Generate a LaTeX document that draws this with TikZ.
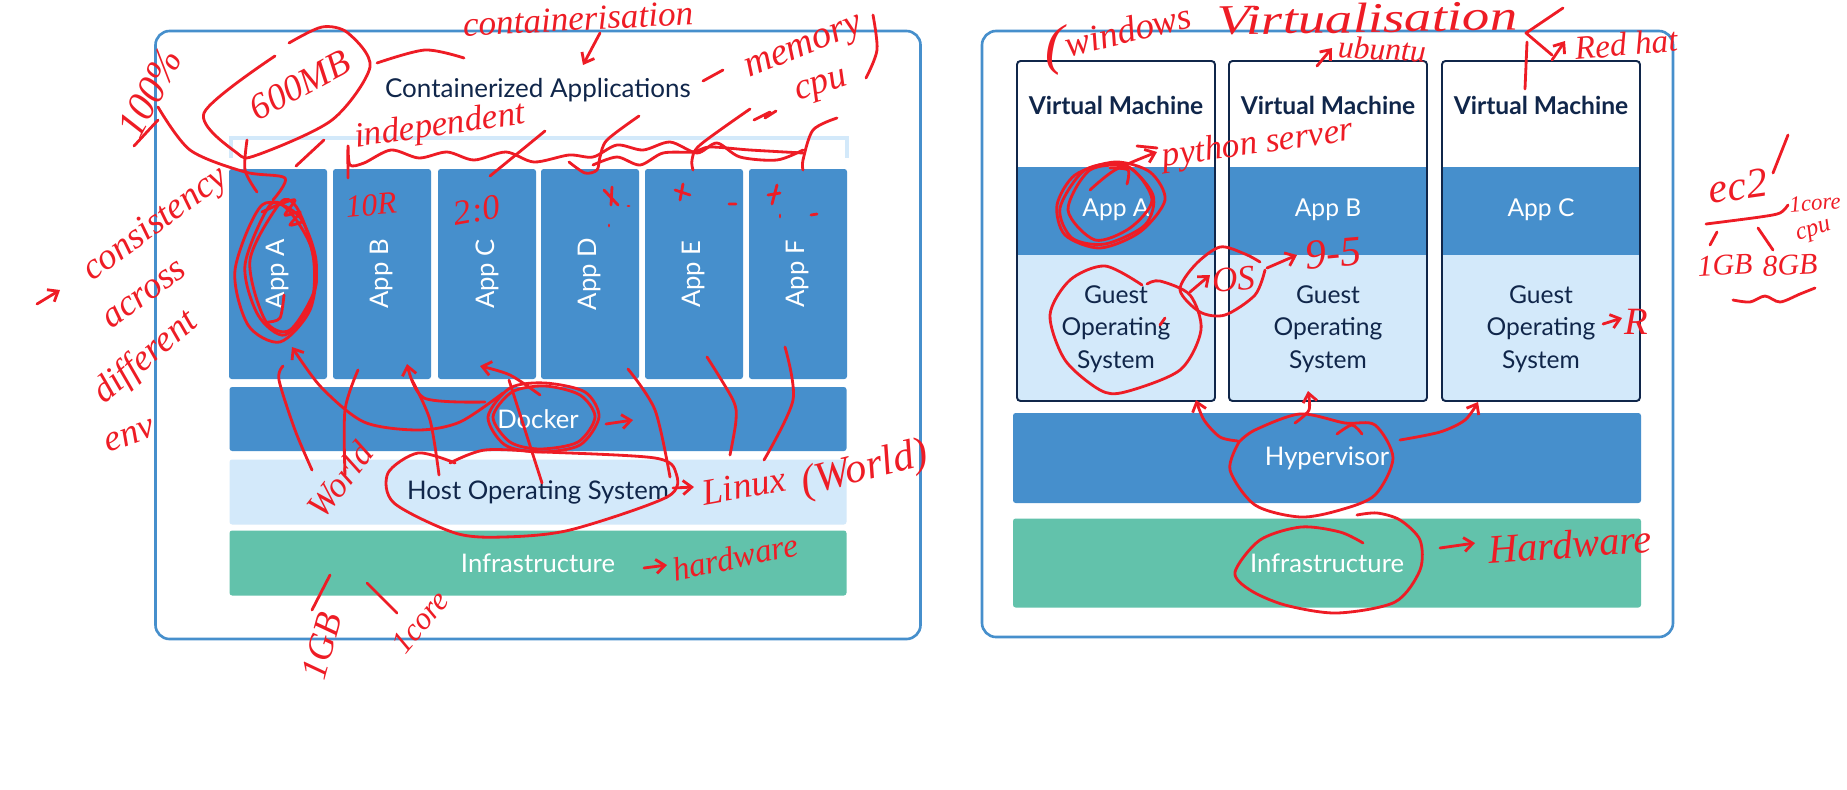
\documentclass[tikz,border=0pt]{standalone}
\usepackage{fontspec}
\setmainfont{Lato}
\newfontfamily\handfont{Liberation Serif}
\usetikzlibrary{arrows.meta}

\definecolor{bandblue}{HTML}{468FCC}
\definecolor{bandlight}{HTML}{D3E9FA}
\definecolor{bandgreen}{HTML}{62C2AB}
\definecolor{navy}{HTML}{10264A}
\definecolor{inkred}{HTML}{EE1C25}

\tikzset{
	boxsize/.style 2 args={minimum width=#1*0.02cm, minimum height=#2*0.02cm, inner sep=0pt},
	outerbox/.style={draw=bandblue, line width=1.5pt, rounded corners=8pt, fill=white},
	appbox/.style={fill=bandblue, text=white, rounded corners=1.5pt, font=\fontsize{14.6}{17}\selectfont},
	lightbox/.style={fill=bandlight, text=navy, rounded corners=1.5pt, font=\fontsize{14.6}{17}\selectfont},
	greenbox/.style={fill=bandgreen, text=white, rounded corners=1.5pt, font=\fontsize{14.6}{17}\selectfont},
	vmbox/.style={draw=navy, line width=1.1pt, rounded corners=2pt},
	plain/.style={text=navy, inner sep=0pt, font=\fontsize{14.8}{17}\selectfont},
	ink/.style={draw=inkred, line width=1.6pt, line cap=round, line join=round},
	hand/.style={text=inkred, inner sep=0pt, font=\handfont\itshape\fontsize{#1}{#1}\selectfont},
	>={Straight Barb[length=5pt,width=8pt]}
}

\begin{document}
\begin{tikzpicture}[x=0.02cm,y=-0.02cm]
	\useasboundingbox (0,0) rectangle (1847,789);

	% left panel
	\node[outerbox, boxsize={765}{608}] (leftpanel) at (538,335) {};
	\node[plain] (conttitle) at (538,90) {Containerized Applications};
	\draw[bandlight, line width=2.2pt] (231,158) -- (231,138) -- (847,138) -- (847,158);

	\foreach \n/\x/\t in {appa/278/A, appb/382/B, appc/487/C, appd/590/D, appe/694/E, appf/798/F}
		\node[appbox, rotate=90, boxsize={210}{98}] (\n) at (\x,274) {App \t};

	\node[appbox, boxsize={617}{64}] (docker) at (538,419) {Docker};
	\node[lightbox, boxsize={617}{65}] (hostos) at (538,492) {Host Operating System};
	\node[greenbox, boxsize={617}{65}] (infraleft) at (538,563) {Infrastructure};

	% right panel
	\node[outerbox, boxsize={691}{606}] (rightpanel) at (1327.5,334) {};

	\foreach \n/\x/\t in {vma/1116/A, vmb/1328/B, vmc/1541/C} {
		\node[appbox, boxsize={198}{88}, rounded corners=0pt] (\n app) at (\x,211) {};
		\node[text=white, inner sep=0pt, font=\fontsize{14}{17}\selectfont] (\n applabel) at (\x,210) {App \t};
		\node[lightbox, boxsize={198}{146}, rounded corners=0pt] (\n os) at (\x,328) {};
		\node[plain, align=center, font=\fontsize{14}{18.5}\selectfont] (\n oslabel) at (\x,329) {Guest\\Operating\\System};
		\node[vmbox, boxsize={198}{340}] (\n) at (\x,231) {};
		\node[plain, font=\bfseries\fontsize{14}{17}\selectfont] (\n title) at (\x,105) {Virtual Machine};
	}

	\node[appbox, boxsize={628}{90}] (hypervisor) at (1327,458) {Hypervisor};
	\node[greenbox, boxsize={628}{89}] (inframain) at (1327,563) {Infrastructure};

	% notes on the left panel
	\node[hand=20, rotate=3] (notecont) at (578,19) {containerisation};
	\draw[ink,->] (600,33) -- (583,65);
	\node[hand=21, rotate=28] (notesize) at (300,85) {600MB};
	\draw[ink] plot[smooth] coordinates {(275,56) (204,113) (237,153) (257,155) (332,120) (370,67) (348,33) (322,27) (289,43)};
	\draw[ink] plot[smooth] coordinates {(377,63) (425,50) (464,58)};
	\node[hand=23, rotate=62] (notepct) at (150,93) {100\%};
	\draw[ink] (158,120) -- (134,146);
	\draw[ink] plot[smooth] coordinates {(158,107) (190,150) (245,172) (285,178) (273,200)};
	\draw[ink] plot[smooth] coordinates {(247,140) (245,170) (257,192)};
	\draw[ink] (324,140) -- (296,166);
	\node[hand=20, rotate=8] (noteindep) at (440,127) {independent};
	\draw[ink] plot[smooth] coordinates {(348,178) (348,146) (350,165) (364,163) (391,150) (419,158) (447,152) (474,160) (506,152) (534,162) (569,155) (593,157) (617,145) (643,150) (670,142) (697,153) (717,143) (740,157) (777,160) (803,150)};
	\draw[ink] plot[smooth] coordinates {(593,165) (617,157) (640,165) (663,153) (693,152) (710,147) (750,150) (803,153)};
	\draw[ink] (545,131) -- (490,176);
	\draw[ink] plot[smooth] coordinates {(639,116) (607,140) (600,157) (597,170) (585,173) (569,162)};
	\draw[ink] plot[smooth] coordinates {(750,109) (700,145) (692,160) (693,170)};
	\draw[ink] plot[smooth] coordinates {(837,118) (813,130) (803,160) (803,170)};
	\draw[ink] (703,81) -- (723,70);
	\node[hand=22, rotate=22] (notemem) at (805,50) {memory};
	\node[hand=21, rotate=18] (notecpu) at (822,88) {cpu};
	\draw[ink] (754,120) -- (770,112) (765,118) -- (776,111);
	\draw[ink] plot[smooth] coordinates {(873,15) (877,50) (866,78)};

	% notes beside the apps
	\node[hand=21, rotate=36] (noteconsist) at (156,225) {consistency};
	\node[hand=21, rotate=36] (noteacross) at (145,295) {across};
	\node[hand=21, rotate=40] (notediff) at (146,358) {different};
	\node[hand=21, rotate=20] (noteenv) at (130,436) {env};
	\draw[ink,->] (37,304) -- (60,290);
	\draw[ink] plot[smooth cycle] coordinates {(262,205) (235,270) (248,325) (280,342) (310,310) (316,260) (298,215)};
	\draw[ink] plot[smooth cycle] coordinates {(270,205) (245,265) (258,315) (285,335) (312,300) (312,250) (290,212)};
	\draw[ink] plot[smooth cycle] coordinates {(280,203) (250,260) (265,320) (290,330) (316,285) (308,235) (295,205)};
	\draw[ink] plot[smooth] coordinates {(262,212) (278,205) (295,200) (285,215) (300,212) (290,225) (302,222)};
	\draw[ink] plot[smooth] coordinates {(284,295) (280,318) (268,322)};
	\node[hand=18, rotate=5] (notetenk) at (371,205) {10R};
	\node[hand=20, rotate=10] (notetwo) at (477,210) {2:0};
	\draw[ink] (604,190) -- (618,205) (612,187) -- (611,205);
	\draw[ink] (675,190) -- (690,195) (683,184) -- (680,200);
	\draw[ink] (772,204) -- (777,185) (768,195) -- (780,193);
	\draw[ink] (729,204) -- (736,204) (811,215) -- (817,214);
	\draw[ink] (780,215) -- (780,217) (609,225) -- (609,226) (628,206) -- (629,206);

	% arcs below the apps
	\draw[ink] plot[smooth] coordinates {(283,366) (279,380) (295,430) (312,470)};
	\draw[ink] plot[smooth] coordinates {(358,370) (345,410) (345,475)};
	\draw[ink,->] plot[smooth] coordinates {(503,393) (460,422) (418,430) (364,422) (321,387) (292,347)};
	\draw[ink,->] plot[smooth] coordinates {(485,402) (424,398) (407,364)};
	\draw[ink,->] plot[smooth] coordinates {(540,395) (510,375) (480,366)};
	\draw[ink] plot[smooth] coordinates {(412,380) (430,420) (439,475)};
	\draw[ink] (509,380) -- (542,483);
	\draw[ink] plot[smooth] coordinates {(628,369) (655,410) (670,477)};
	\draw[ink] plot[smooth] coordinates {(707,357) (733,400) (736,420) (730,455)};
	\draw[ink] plot[smooth] coordinates {(785,347) (793,400) (764,460)};
	\draw[ink] plot[smooth cycle] coordinates {(488,417) (510,388) (545,383) (585,392) (599,417) (580,445) (540,452) (505,445)};
	\draw[ink] plot[smooth cycle] coordinates {(493,417) (512,392) (545,386) (580,395) (595,417) (578,442) (540,449) (510,442)};
	\draw[ink,->] (606,424) -- (633,420);
	\draw[ink] plot[smooth] coordinates {(455,463) (418,453) (388,473) (394,503) (455,533) (503,537) (570,530) (667,497) (676,473) (655,458) (545,452) (485,450) (450,463)};
	\draw[ink,->] (673,488) -- (694,487);
	\node[hand=20, rotate=52] (noteworld) at (340,480) {World};
	\node[hand=21, rotate=10] (notelinux) at (744,486) {Linux};
	\node[hand=24, rotate=14] (noteworldb) at (865,470) {(World)};
	\draw[ink,->] (644,568) -- (667,565);
	\node[hand=19, rotate=12] (notehard) at (735,557) {hardware};
	\draw[ink] (330,575) -- (312,610);
	\draw[ink] (367,583) -- (397,613);
	\node[hand=21, rotate=75] (notegb) at (322,646) {1GB};
	\node[hand=18, rotate=50] (notecore) at (420,622) {1core};

	% notes on the right panel
	\node[hand=21, rotate=14] (notewin) at (1128,30) {windows};
	\node[hand=32] (noteparen) at (1055,50) {(};
	\node[hand=24, rotate=1] (notevirt) at (1367,18) {\scalebox{1.3}[1]{Virtualisation}};
	\draw[ink,->] (1317,66) -- (1332,48);
	\node[hand=18, rotate=-3] (noteubu) at (1382,49) {ubuntu};
	\draw[ink] (1563,8) -- (1526,33) -- (1552,55);
	\draw[ink,->] (1552,60) -- (1565,41);
	\draw[ink] (1527,42) -- (1525,89);
	\node[hand=19, rotate=5] (noteredhat) at (1626,44) {Red hat};
	\node[hand=20, rotate=8] (notepython) at (1258,145) {python server};
	\draw[ink,->] plot[smooth] coordinates {(1090,190) (1115,170) (1157,152)};
	\draw[ink] (1137,146) -- (1157,148);
	\draw[ink] plot[smooth] coordinates {(1110,168) (1128,170) (1127,184)};
	\draw[ink] plot[smooth cycle] coordinates {(1057,205) (1075,175) (1115,162) (1150,172) (1165,200) (1140,232) (1100,248) (1065,235)};
	\draw[ink] plot[smooth cycle] coordinates {(1060,208) (1085,170) (1125,165) (1153,195) (1145,225) (1105,244) (1072,238)};
	\draw[ink] plot[smooth cycle] coordinates {(1068,210) (1090,170) (1130,168) (1152,200) (1130,228) (1095,240)};
	\draw[ink] plot[smooth] coordinates {(1142,285) (1105,266) (1070,280) (1050,315) (1065,360) (1100,390) (1125,392) (1180,370) (1201,330) (1190,295) (1160,281) (1147,284)};
	\draw[ink] plot[smooth] coordinates {(1260,262) (1245,254) (1220,247) (1195,265) (1180,290) (1200,312) (1225,315) (1255,295) (1265,270)};
	\draw[ink] (1160,325) -- (1165,318);
	\draw[ink,->] (1190,292) -- (1210,275);
	\node[hand=20, rotate=5] (noteos) at (1234,279) {OS};
	\draw[ink,->] (1267,268) -- (1297,255);
	\node[hand=24, rotate=5] (notenine) at (1333,253) {9-5};
	\draw[ink,->] (1603,324) -- (1622,318);
	\node[hand=22] (noter) at (1636,322) {R};

	% hypervisor and infrastructure
	\draw[ink] plot[smooth] coordinates {(1239,442) (1255,430) (1300,414) (1345,423) (1375,425) (1393,458) (1375,495) (1340,510) (1300,517) (1255,505) (1230,470) (1239,442)};
	\draw[ink,->] plot[smooth] coordinates {(1238,441) (1220,437) (1204,420) (1196,400)};
	\draw[ink,->] plot[smooth] coordinates {(1295,423) (1309,410) (1308,391)};
	\draw[ink,->] plot[smooth] coordinates {(1400,440) (1440,432) (1465,420) (1478,402)};
	\draw[ink] plot[smooth] coordinates {(1337,434) (1352,425) (1362,434)};
	\draw[ink] plot[smooth] coordinates {(1363,543) (1340,532) (1301,527) (1260,540) (1235,572) (1250,590) (1285,605) (1337,613) (1395,602) (1420,570) (1420,540) (1400,520) (1377,513) (1357,515)};
	\draw[ink,->] (1440,548) -- (1475,543);
	\node[hand=23, rotate=4] (notehardb) at (1570,544) {Hardware};

	% notes on the far right
	\node[hand=24, rotate=8] (noteectwo) at (1738,186) {ec2};
	\draw[ink] (1773,173) -- (1788,135);
	\draw[ink] plot[smooth] coordinates {(1706,224) (1760,217) (1780,213) (1788,205)};
	\node[hand=13, rotate=5] (notecoreb) at (1815,203) {1core};
	\node[hand=14, rotate=18] (notecpub) at (1814,232) {cpu};
	\draw[ink] (1717,232) -- (1710,245);
	\draw[ink] (1758,228) -- (1773,250);
	\node[hand=17, rotate=3] (notegbb) at (1725,265) {1GB};
	\node[hand=17, rotate=3] (noteeight) at (1790,265) {8GB};
	\draw[ink] plot[smooth] coordinates {(1733,300) (1750,302) (1765,296) (1780,302) (1800,294) (1815,288)};

\end{tikzpicture}
\end{document}
